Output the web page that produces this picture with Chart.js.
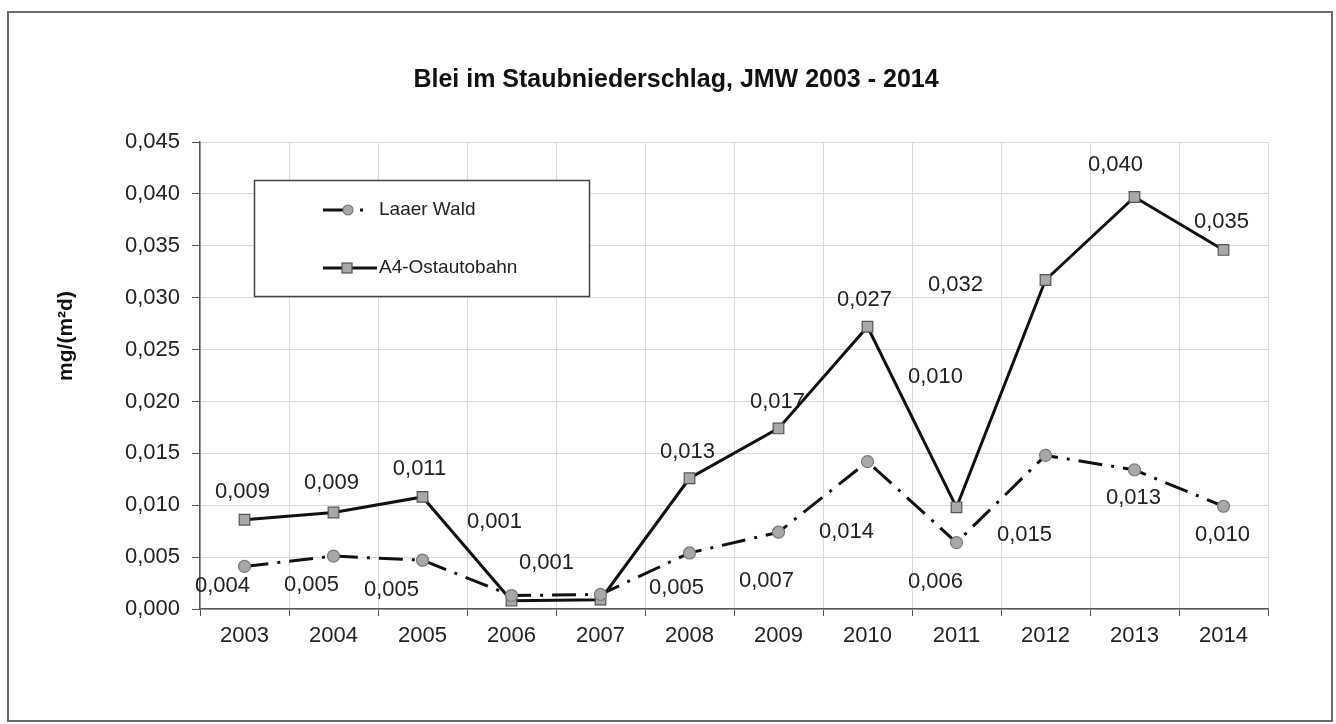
<!DOCTYPE html>
<html>
<head>
<meta charset="utf-8">
<title>Blei im Staubniederschlag</title>
<script src="https://cdn.jsdelivr.net/npm/chart.js@4.4.1/dist/chart.umd.min.js"></script>
<style>
  html, body { margin: 0; padding: 0; background: #fff; }
  #wrap { width: 1336px; height: 724px; }
</style>
</head>
<body>
<div id="wrap"><canvas id="chart" width="1336" height="724"></canvas></div>
<script>
// JMW values in mg/(m²d)
const years = ['2003', '2004', '2005', '2006', '2007', '2008', '2009', '2010', '2011', '2012', '2013', '2014'];
const laaerWald = [0.0041, 0.0051, 0.0047, 0.0013, 0.0014, 0.0054, 0.0074, 0.0142, 0.0064, 0.0148, 0.0134, 0.0099];
const a4Ostautobahn = [0.0086, 0.0093, 0.0108, 0.0008, 0.0009, 0.0126, 0.0174, 0.0272, 0.0098, 0.0317, 0.0397, 0.0346];
const seriesNames = ['Laaer Wald', 'A4-Ostautobahn'];
const yMin = 0;
const yMax = 0.045;
const yStep = 0.005;

// where each value label sits relative to its point (px), null = no label
const laaerLabelShift = [[-22, 19], [-22, 29], [-31, 30], null, null, [-13, 35], [-12, 49], [-21, 70], [-21, 39], [-21, 80], [-1, 28], [-1, 29]];
const a4LabelShift = [[-2, -28], [-2, -30], [-3, -28], [-17, -79], [-54, -37], [-2, -26], [-1, -26], [-3, -27], [-21, -130], [-90, 5], [-19, -32], [-2, -28]];

const FONT = '"Liberation Sans", Arial, sans-serif';
const TEXT = '#222';

const fmt = v => v.toFixed(3).replace('.', ',');

const decor = {
  id: 'decor',
  beforeDatasetsDraw(chart) {
    const ctx = chart.ctx;
    const shifts = [laaerLabelShift, a4LabelShift];
    ctx.save();
    ctx.font = '22px ' + FONT;
    ctx.fillStyle = TEXT;
    ctx.textAlign = 'center';
    ctx.textBaseline = 'middle';
    chart.data.datasets.forEach((ds, i) => {
      const meta = chart.getDatasetMeta(i);
      meta.data.forEach((pt, j) => {
        const s = shifts[i][j];
        if (!s) return;
        ctx.fillText(fmt(ds.data[j]), pt.x + s[0], pt.y + s[1]);
      });
    });
    ctx.restore();
  },
  afterDraw(chart) {
    const ctx = chart.ctx;
    ctx.save();

    // outer frame
    ctx.strokeStyle = '#6b6b6b';
    ctx.lineWidth = 2;
    ctx.strokeRect(8, 12, 1324, 709);

    // title
    ctx.fillStyle = '#111';
    ctx.font = 'bold 25px ' + FONT;
    ctx.textAlign = 'center';
    ctx.textBaseline = 'middle';
    ctx.fillText('Blei im Staubniederschlag, JMW 2003 - 2014', 676, 80);

    // y axis title
    ctx.save();
    ctx.translate(66, 336);
    ctx.rotate(-Math.PI / 2);
    ctx.font = 'bold 21px ' + FONT;
    ctx.fillText('mg/(m²d)', 0, 0);
    ctx.restore();

    // legend box
    ctx.fillStyle = '#fff';
    ctx.fillRect(254, 180, 335, 116);
    ctx.strokeStyle = '#444';
    ctx.lineWidth = 1.5;
    ctx.strokeRect(254.5, 180.5, 335, 116);

    ctx.strokeStyle = '#111';
    ctx.lineWidth = 3;
    ctx.setLineDash([20, 17, 3, 100]);
    ctx.beginPath();
    ctx.moveTo(323, 210);
    ctx.lineTo(366, 210);
    ctx.stroke();
    ctx.setLineDash([]);
    ctx.beginPath();
    ctx.arc(348, 210, 5, 0, Math.PI * 2);
    ctx.fillStyle = '#a8a8a8';
    ctx.fill();
    ctx.strokeStyle = '#7a7a7a';
    ctx.lineWidth = 1.2;
    ctx.stroke();

    ctx.strokeStyle = '#111';
    ctx.lineWidth = 3;
    ctx.beginPath();
    ctx.moveTo(323, 268);
    ctx.lineTo(377, 268);
    ctx.stroke();
    ctx.fillStyle = '#a8a8a8';
    ctx.fillRect(342, 263, 10, 10);
    ctx.strokeStyle = '#555';
    ctx.lineWidth = 1.2;
    ctx.strokeRect(342, 263, 10, 10);

    ctx.fillStyle = TEXT;
    ctx.font = '19px ' + FONT;
    ctx.textAlign = 'left';
    ctx.fillText(seriesNames[0], 379, 210);
    ctx.fillText(seriesNames[1], 379, 268);

    ctx.restore();
  }
};

new Chart(document.getElementById('chart'), {
  type: 'line',
  data: {
    labels: years,
    datasets: [
      {
        label: seriesNames[0],
        data: laaerWald,
        borderColor: '#111',
        borderWidth: 3,
        borderDash: [24, 9, 3, 9],
        pointStyle: 'circle',
        pointRadius: 6,
        pointBackgroundColor: '#a8a8a8',
        pointBorderColor: '#7a7a7a',
        pointBorderWidth: 1.2,
        tension: 0
      },
      {
        label: seriesNames[1],
        data: a4Ostautobahn,
        borderColor: '#111',
        borderWidth: 3,
        pointStyle: 'rect',
        pointRadius: 7.5,
        pointBackgroundColor: '#a8a8a8',
        pointBorderColor: '#555',
        pointBorderWidth: 1.2,
        tension: 0
      }
    ]
  },
  options: {
    responsive: false,
    devicePixelRatio: 1,
    animation: false,
    layout: { padding: { top: 142, right: 68, left: 0, bottom: 0 } },
    plugins: {
      legend: { display: false },
      title: { display: false },
      tooltip: { enabled: false }
    },
    scales: {
      x: {
        type: 'category',
        offset: true,
        grid: { offset: true, color: '#d9d9d9', lineWidth: 1, tickLength: 7, tickColor: '#555' },
        border: { color: '#555', width: 1.5 },
        ticks: { color: TEXT, font: { family: FONT, size: 22 }, padding: 7, maxRotation: 0 },
        afterFit(scale) { scale.height = 115; }
      },
      y: {
        min: yMin,
        max: yMax,
        grid: { color: '#d9d9d9', lineWidth: 1, tickLength: 8, tickColor: '#555' },
        border: { color: '#555', width: 1.5 },
        ticks: {
          stepSize: yStep,
          color: TEXT,
          font: { family: FONT, size: 22 },
          padding: 12,
          callback: v => fmt(v)
        },
        afterFit(scale) { scale.width = 200; }
      }
    }
  },
  plugins: [decor]
});
</script>
</body>
</html>
